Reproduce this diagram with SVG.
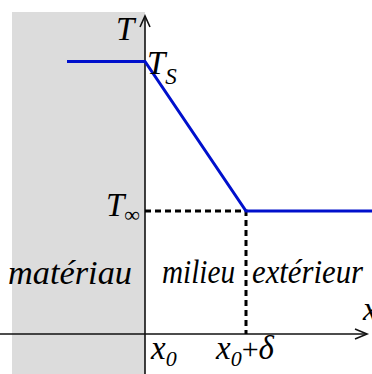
<svg xmlns="http://www.w3.org/2000/svg" width="372" height="374" viewBox="0 0 372 374">
<style>
.t{font-family:"Liberation Serif","Times New Roman",serif;font-style:italic;fill:#000}
.ax{stroke:#111;stroke-width:1.6;fill:none}
.dash{stroke:#000;stroke-width:3;stroke-dasharray:6 4;fill:none}
.blue{stroke:#0010cc;stroke-width:3;fill:none;stroke-linejoin:miter}
</style>
<rect id="material" x="12" y="12" width="133" height="362" fill="#dcdcdc"/>
<g id="connectors">
<line class="ax" x1="145" y1="374" x2="145" y2="16"/>
<polyline class="ax" points="140,27 145,16 150,27"/>
<line class="ax" x1="0" y1="334" x2="366" y2="334"/>
<polyline class="ax" points="355,329 367,334 355,339"/>
<polyline class="dash" points="145,211 246,211 246,334"/>
<polyline class="blue" points="67,61.5 145,61.5 246,211 372,211"/>
</g>
<g id="labels">
<text class="t" x="116" y="40" font-size="33">T</text>
<text class="t" x="147" y="74" font-size="33">T<tspan font-size="23" dy="10">S</tspan></text>
<text class="t" x="106" y="216" font-size="33">T<tspan font-size="22" dy="6" font-style="normal">∞</tspan></text>
<text class="t" x="8" y="284" font-size="33" textLength="124" lengthAdjust="spacingAndGlyphs">matériau</text>
<text class="t" x="162" y="283" font-size="33" textLength="73" lengthAdjust="spacingAndGlyphs">milieu</text>
<text class="t" x="252" y="283" font-size="33" textLength="111" lengthAdjust="spacingAndGlyphs">extérieur</text>
<text class="t" x="363" y="320" font-size="33">x</text>
<text class="t" x="151" y="359" font-size="33">x<tspan font-size="22" dy="7">0</tspan></text>
<text class="t" x="216" y="359" font-size="33">x<tspan font-size="22" dy="7">0</tspan><tspan dy="-7" font-style="normal" font-size="30">+</tspan>δ</text>
</g>
</svg>
